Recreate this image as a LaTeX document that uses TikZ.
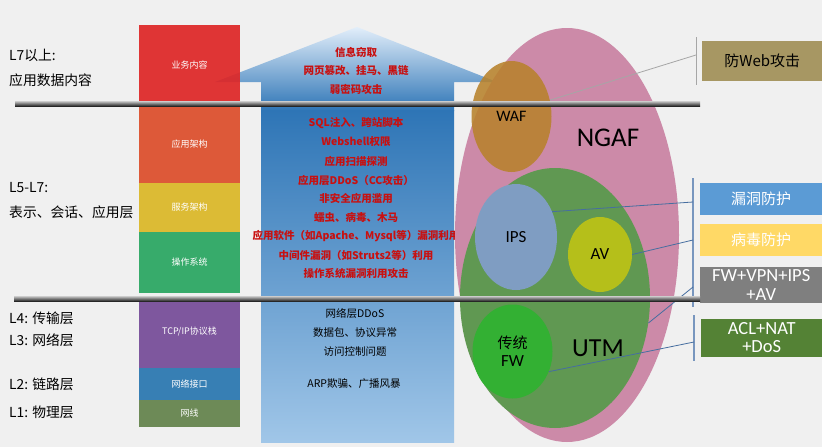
\documentclass[tikz,border=0pt]{standalone}
\usepackage{fontspec}
\setmainfont{Noto Sans CJK SC}
\newfontfamily\calfont{Carlito}
\usetikzlibrary{shapes.geometric}
\definecolor{bgc}{RGB}{240,240,240}
\definecolor{arrtop}{RGB}{226,238,250}
\definecolor{arrdark}{RGB}{46,117,182}
\definecolor{arrlow}{RGB}{160,198,232}
\definecolor{s1}{RGB}{222,38,38}
\definecolor{s2}{RGB}{220,77,42}
\definecolor{s3}{RGB}{219,183,38}
\definecolor{s4}{RGB}{40,166,96}
\definecolor{s5}{RGB}{117,74,152}
\definecolor{s6}{RGB}{40,118,175}
\definecolor{s7}{RGB}{98,130,74}
\definecolor{atkred}{RGB}{200,16,16}
\definecolor{ngafc}{RGB}{204,138,168}
\definecolor{utmc}{RGB}{96,152,82}
\definecolor{wafc}{RGB}{184,130,44}
\definecolor{ipsc}{RGB}{127,157,194}
\definecolor{avc}{RGB}{181,191,26}
\definecolor{fwc}{RGB}{51,176,51}
\definecolor{webc}{RGB}{167,151,99}
\definecolor{vulc}{RGB}{91,155,213}
\definecolor{virc}{RGB}{255,217,102}
\definecolor{suitec}{RGB}{127,127,127}
\definecolor{aclc}{RGB}{84,130,53}
\definecolor{barc}{RGB}{120,150,190}
\definecolor{linkc}{RGB}{70,110,160}

\begin{document}
\begin{tikzpicture}[x=1pt,y=-1pt,
  box/.style={minimum width=101pt,inner sep=0pt,text=white,fill opacity=0.92,text opacity=1,font=\fontsize{9}{9}\selectfont},
  lay/.style={anchor=west,inner sep=0pt,font=\fontsize{13.8}{14}\selectfont},
  atk/.style={inner sep=0pt,text=atkred,font=\bfseries\fontsize{10.5}{11}\selectfont},
  net/.style={inner sep=0pt,font=\fontsize{10.5}{11}\selectfont},
  oval/.style={ellipse,inner sep=0pt},
  tag/.style={anchor=west,minimum width=122pt,inner sep=0pt,align=center,text=white},
  rule/.style={top color=gray!40,bottom color=black!85},
  link/.style={draw=linkc,line width=0.8pt}]
\useasboundingbox (0,0) rectangle (822,447);
\fill[bgc] (0,0) rectangle (822,447);
% arrow
\shade[top color=arrtop,bottom color=arrdark] (215,82) -- (357,27) -- (497,82) -- (454,82) -- (454,111) -- (261,111) -- (261,82) -- cycle;
\shade[top color=arrdark,bottom color=arrlow] (261,110) rectangle (454,442);
% layer stack
\node[box,fill=s1,minimum height=81pt] (a) at (189.5,65.5) {业务内容};
\node[box,fill=s2,minimum height=77pt] (b) at (189.5,144.5) {应用架构};
\node[box,fill=s3,minimum height=49pt] (c) at (189.5,207.5) {服务架构};
\node[box,fill=s4,minimum height=61pt] (d) at (189.5,262.5) {操作系统};
\node[box,fill=s5,minimum height=72pt] (e) at (189.5,332) {TCP/IP协议栈};
\node[box,fill=s6,minimum height=32pt] (f) at (189.5,384) {网络接口};
\node[box,fill=s7,minimum height=27pt] (g) at (189.5,413.5) {网线};
\node[lay] (l7a) at (9,55) {L7以上:};
\node[lay] (l7b) at (9,80) {应用数据内容};
\node[lay] (l5a) at (9,188) {L5-L7:};
\node[lay] (l5b) at (9,212) {表示、会话、应用层};
\node[lay] (l4) at (9,318) {L4: 传输层};
\node[lay] (l3) at (9,340) {L3: 网络层};
\node[lay] (l2) at (9,384) {L2: 链路层};
\node[lay] (l1) at (9,412) {L1: 物理层};
% attacks
\node[atk] (t1) at (356,52) {信息窃取};
\node[atk] (t2) at (356,70) {网页篡改、挂马、黑链};
\node[atk] (t3) at (356,89) {弱密码攻击};
\node[atk] (t4) at (356,123) {SQL注入、跨站脚本};
\node[atk] (t5) at (356,142) {Webshell权限};
\node[atk] (t6) at (356,161) {应用扫描探测};
\node[atk] (t7) at (356,180) {应用层DDoS（CC攻击）};
\node[atk] (t8) at (356,198) {非安全应用滥用};
\node[atk] (t9) at (356,217) {蠕虫、病毒、木马};
\node[atk] (t10) at (356,236) {应用软件（如Apache、Mysql等）漏洞利用};
\node[atk] (t11) at (356,255) {中间件漏洞（如Struts2等）利用};
\node[atk] (t12) at (356,273) {操作系统漏洞利用攻击};
\node[net] (n1) at (355,313) {网络层DDoS};
\node[net] (n2) at (355,333) {数据包、协议异常};
\node[net] (n3) at (355,352) {访问控制问题};
\node[net] (n4) at (354,384) {ARP欺骗、广播风暴};
% devices
\node[oval,fill=ngafc,minimum width=224pt,minimum height=414pt] (ngaf) at (567,235) {};
\node[oval,fill=utmc,minimum width=190pt,minimum height=260pt] (utm) at (555,298) {};
\node[oval,fill=wafc,fill opacity=0.88,text opacity=1,minimum width=80pt,minimum height=111pt,font=\calfont\fontsize{16}{16}\selectfont] (waf) at (511.5,116.5) {WAF};
\node[oval,fill=ipsc,minimum width=82pt,minimum height=106pt,font=\calfont\fontsize{17}{17}\selectfont] (ips) at (516,237) {IPS};
\node[oval,fill=avc,minimum width=64pt,minimum height=75pt,font=\calfont\fontsize{17}{17}\selectfont] (av) at (600,254.5) {AV};
\node[oval,fill=fwc,minimum width=80pt,minimum height=94pt,align=center,font=\fontsize{15}{18}\selectfont] (fw) at (512.5,351.5) {传统\\{\calfont\fontsize{17}{18}\selectfont FW}};
\node[inner sep=0pt,font=\calfont\fontsize{27}{27}\selectfont] (ngafl) at (608,138) {NGAF};
\node[inner sep=0pt,font=\calfont\fontsize{26}{26}\selectfont] (utml) at (598,348) {UTM};
% functions
\node[tag,fill=webc,text=black,minimum width=120pt,minimum height=40pt,font=\fontsize{15}{15}\selectfont] (web) at (702,61) {防Web攻击};
\node[tag,fill=vulc,minimum height=32pt,font=\fontsize{15}{15}\selectfont] (vul) at (700,199) {漏洞防护};
\node[tag,fill=virc,minimum height=32pt,font=\fontsize{15}{15}\selectfont] (vir) at (700,240) {病毒防护};
\node[tag,fill=suitec,minimum height=36pt,font=\calfont\fontsize{18.5}{19}\selectfont] (suite) at (700,285) {FW+VPN+IPS\\+AV};
\node[tag,fill=aclc,minimum width=121pt,minimum height=38pt,font=\calfont\fontsize{18.5}{18}\selectfont] (acl) at (701,338) {ACL+NAT\\+DoS};
\coordinate (p1) at (696,37);
\coordinate (p2) at (696,85);
\coordinate (pw) at (696,55);
\coordinate (q1) at (693,178);
\coordinate (q2) at (693,307);
\coordinate (qv) at (693,202);
\coordinate (qa) at (693,240);
\coordinate (qs) at (693,287);
\coordinate (r1) at (694,315);
\coordinate (r2) at (694,361);
\coordinate (rf) at (694,342);
\draw[gray!70,line width=1pt] (p1) -- (p2);
\draw[barc,line width=1.5pt] (q1) -- (q2);
\draw[barc,line width=1.5pt] (r1) -- (r2);
\draw[gray!70,line width=0.8pt] (waf.23) -- (pw);
\draw[link] (ips.35) -- (qv);
\draw[link] (av.east) -- (qa);
\draw[link] (utm.-15) -- (qs);
\draw[link] (fw.-29) -- (rf);
% layer rules
\shade[rule] (15,101) rectangle (700,106);
\shade[rule] (14,296) rectangle (700,301);
\end{tikzpicture}
\end{document}
